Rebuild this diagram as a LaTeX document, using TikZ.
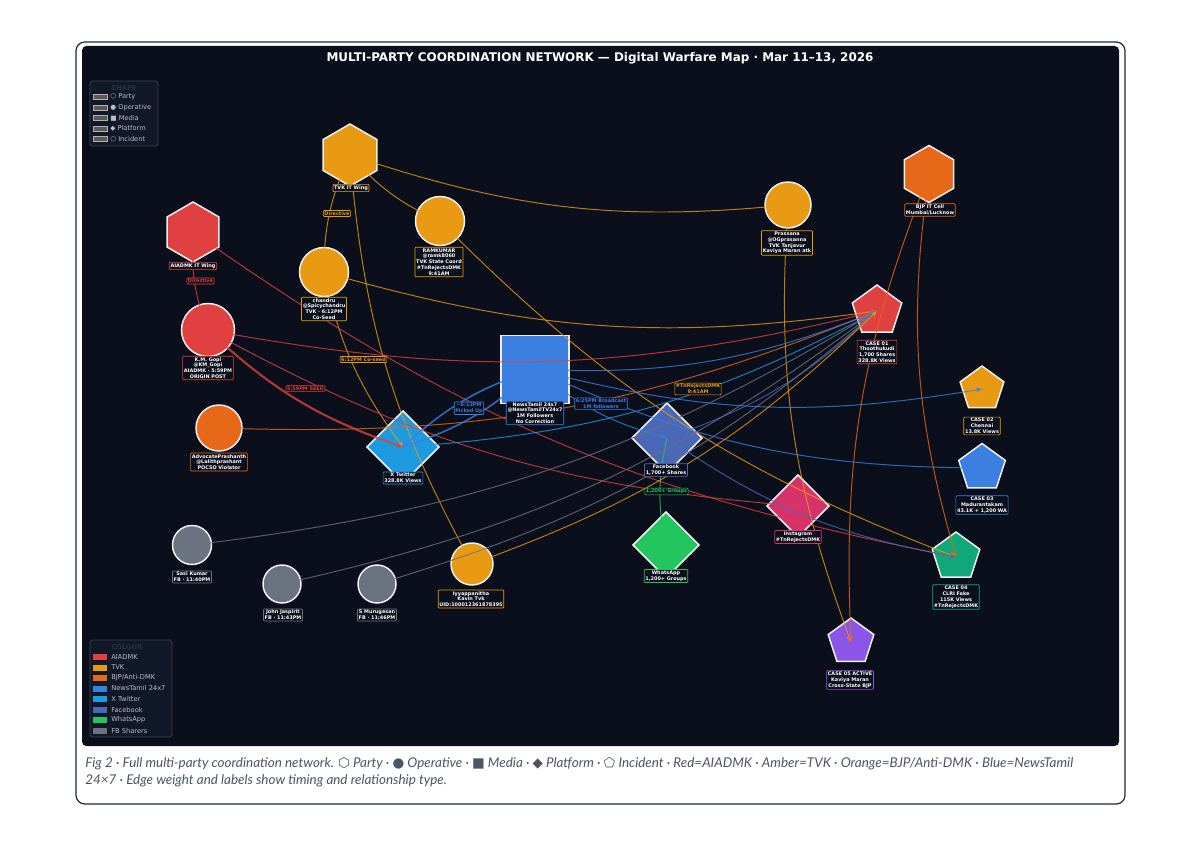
\documentclass[tikz,border=0pt]{standalone}
\usepackage{fontspec}
\setmainfont{DejaVu Sans}
\newfontfamily\capfont{Lato}
\newfontfamily\symf{DejaVu Sans}
\usetikzlibrary{shapes.geometric,arrows.meta}
\definecolor{panel}{HTML}{0B0F1C}
\definecolor{cRed}{HTML}{E0403F}
\definecolor{cAmb}{HTML}{E89B12}
\definecolor{cOra}{HTML}{E8681A}
\definecolor{cBlu}{HTML}{3B7FE0}
\definecolor{cXtw}{HTML}{1D9BE0}
\definecolor{cFb}{HTML}{4A68B8}
\definecolor{cWa}{HTML}{22C55E}
\definecolor{cIg}{HTML}{D6336C}
\definecolor{cGry}{HTML}{6B7280}
\definecolor{cTeal}{HTML}{10A878}
\definecolor{cPur}{HTML}{8B55E8}
\definecolor{frameC}{HTML}{1F2937}
\definecolor{capC}{HTML}{4B5563}
\definecolor{legFill}{HTML}{111827}
\definecolor{legLine}{HTML}{3B4455}
\definecolor{legText}{HTML}{B8BEC8}
\definecolor{legTitle}{HTML}{2A3342}
\newcommand\lblfont{\fontsize{2.8}{3.3}\selectfont\bfseries}
\newcommand\legfont{\fontsize{3.8}{4.5}\selectfont}
\tikzset{
  base/.style={draw=white!94!black, line width=0.85pt, inner sep=0pt, outer sep=0pt},
  party/.style={base, regular polygon, regular polygon sides=6, shape border rotate=30, minimum size=#1},
  oper/.style={base, circle, minimum size=#1},
  media/.style={base, rectangle, minimum size=#1},
  plat/.style={base, diamond, aspect=1, minimum width=#1, minimum height=#1},
  incid/.style={base, regular polygon, regular polygon sides=5, minimum size=#1},
  edge/.style={line width=0.55pt, opacity=0.8, -{Stealth[length=3.6pt,width=2.8pt]}},
  nlab/.style={fill=panel, draw=#1, text=white, line width=0.4pt, rounded corners=0.5pt, inner sep=0.7pt, font=\lblfont, align=center},
  elab/.style={fill=panel, draw=#1, text=#1, line width=0.35pt, rounded corners=0.5pt, inner sep=0.6pt, font=\lblfont, align=center},
  legbox/.style={fill=legFill, draw=legLine, line width=0.4pt, rounded corners=1pt},
  legsw/.style={minimum width=0.28cm, minimum height=0.1cm, inner sep=0pt},
  legtx/.style={anchor=west, text=legText, font=\legfont, inner sep=0pt},
}
\begin{document}
\begin{tikzpicture}[x=0.02cm,y=0.02cm]
\fill[white] (0,0) rectangle (1199,-848);
\useasboundingbox (0,0) rectangle (1199,-848);
\draw[frameC, fill=white, rounded corners=5pt, line width=0.7pt] (76,-42) rectangle (1125,-804);
\fill[panel, rounded corners=2.5pt] (82,-46) rectangle (1119,-746);
\node[text=white, font=\fontsize{6.8}{8}\selectfont\bfseries] (title) at (600,-58) {MULTI-PARTY COORDINATION NETWORK — Digital Warfare Map · Mar 11–13, 2026};

% ---------- nodes ----------
\node[party=1.24cm, fill=cAmb] (tvk) at (350,-155) {};
\node[party=1.2cm, fill=cRed] (aiad) at (193,-232) {};
\node[party=1.14cm, fill=cOra] (bjp) at (929,-174) {};
\node[oper=0.98cm, fill=cAmb] (ram) at (440,-221) {};
\node[oper=0.98cm, fill=cAmb] (chan) at (324,-272) {};
\node[oper=1.06cm, fill=cRed] (gopi) at (208,-330) {};
\node[oper=0.92cm, fill=cAmb] (pras) at (788,-205) {};
\node[oper=0.92cm, fill=cOra] (adv) at (219,-428) {};
\node[media=1.36cm, fill=cBlu] (news) at (535,-369.5) {};
\node[plat=1.44cm, fill=cXtw] (xtw) at (403,-447) {};
\node[plat=1.4cm, fill=cFb] (fb) at (667,-438) {};
\node[plat=1.32cm, fill=cWa] (wa) at (666,-545) {};
\node[plat=1.24cm, fill=cIg] (insta) at (798,-506) {};
\node[incid=1.04cm, fill=cRed] (c1) at (877,-311) {};
\node[incid=0.92cm, fill=cAmb] (c2) at (982,-389) {};
\node[incid=0.98cm, fill=cBlu] (c3) at (982,-468) {};
\node[incid=1.0cm, fill=cTeal] (c4) at (956,-557) {};
\node[incid=0.96cm, fill=cPur] (c5) at (851,-642) {};
\node[oper=0.78cm, fill=cGry] (sasi) at (192,-545) {};
\node[oper=0.76cm, fill=cGry] (john) at (282,-584) {};
\node[oper=0.76cm, fill=cGry] (muru) at (377,-584) {};
\node[oper=0.84cm, fill=cAmb] (iyya) at (472,-564) {};

% ---------- edges ----------
\draw[edge,cAmb] (tvk.center) to[bend right=12] (pras.center);
\draw[edge,cAmb] (tvk.center) to[bend right=12] (ram.center);
\draw[edge,cAmb] (tvk.center) to[bend right=12] (chan.center);
\draw[edge,cAmb] (tvk.center) to[bend right=12] (iyya.center);
\draw[edge,cAmb] (chan.center) to[bend right=12] (xtw.center);
\draw[edge,cAmb] (chan.center) to[bend right=12] (c1.center);
\draw[edge,cAmb] (ram.center) to[bend right=12] (c4.center);
\draw[edge,cAmb] (pras.center) to[bend right=12] (c5.center);
\draw[edge,cOra] (bjp.center) to[bend right=12] (c5.center);
\draw[edge,cOra] (bjp.center) to[bend right=12] (c4.center);
\draw[edge,cOra] (adv.center) to[bend right=12] (c1.center);
\draw[edge,cRed] (aiad.center) to[bend right=12] (gopi.center);
\draw[edge,cRed] (aiad.center) to[bend right=12] (c4.center);
\draw[edge,cRed,line width=1.2pt] (gopi.center) to[bend right=12] (xtw.center);
\draw[edge,cRed] (gopi.center) to[bend right=12] (c1.center);
\draw[edge,cRed] (gopi.center) to[bend right=12] (insta.center);
\draw[edge,cBlu,line width=0.9pt] (xtw.center) to[bend right=12] (news.center);
\draw[edge,cBlu,line width=0.9pt] (news.center) to[bend right=12] (xtw.center);
\draw[edge,cBlu] (news.center) to[bend right=12] (fb.center);
\draw[edge,cBlu] (news.center) to[bend right=12] (c1.center);
\draw[edge,cBlu] (news.center) to[bend right=12] (c2.center);
\draw[edge,cBlu] (news.center) to[bend right=12] (c3.center);
\draw[edge,cWa] (fb.center) to[bend right=12] (wa.center);
\draw[edge,cFb] (fb.center) to[bend right=12] (c4.center);
\draw[edge,cXtw] (xtw.center) to[bend right=12] (c1.center);
\draw[edge,cFb] (fb.center) to[bend right=12] (c1.center);
\draw[edge,cGry] (sasi.center) to[bend right=12] (c1.center);
\draw[edge,cGry] (john.center) to[bend right=12] (c1.center);
\draw[edge,cGry] (muru.center) to[bend right=12] (c1.center);
\draw[edge,cAmb] (iyya.center) to[bend right=12] (c1.center);

% ---------- edge labels ----------
\path (tvk.center) -- node[elab=cAmb] (eDir1) {Directive} (chan.center);
\path (aiad.center) -- node[elab=cRed] (eDir2) {Directive} (gopi.center);
\path (chan.center) -- node[elab=cAmb] (eCo) {6:12PM Co-seed} (xtw.center);
\path (gopi.center) -- node[elab=cRed] (eSeed) {5:59PM SEED} (xtw.center);
\path (xtw.center) -- node[elab=cBlu] (ePick) {\textasciitilde6:13PM\\Picked Up} (news.center);
\path (news.center) -- node[elab=cBlu] (eBc) {6:25PM Broadcast\\1M followers} (fb.center);
\path (ram.center) -- node[elab=cAmb] (eTn) {\#TnRejectsDMK\\9:41AM} (c4.center);
\path (fb.center) -- node[elab=cWa] (eGr) {1,200+ Groups} (wa.center);

% ---------- node labels ----------
\node[nlab=cAmb] (ltvk) at (351,-188) {TVK IT Wing};
\node[nlab=cRed] (laiad) at (193,-266) {AIADMK IT Wing};
\node[nlab=cOra] (lbjp) at (930,-210) {BJP IT Cell\\Mumbai/Lucknow};
\node[nlab=cAmb] (lram) at (439,-262) {RAMKUMAR\\@ramk8060\\TVK State Coord\\\#TnRejectsDMK\\9:41AM};
\node[nlab=cAmb] (lchan) at (324,-309) {chandru\\@Spicychandru\\TVK · 6:12PM\\Co-Seed};
\node[nlab=cRed] (lgopi) at (208,-368) {K.M. Gopi\\@KM\_Gopi\\AIADMK · 5:59PM\\ORIGIN POST};
\node[nlab=cAmb] (lpras) at (787,-243) {Prassana\\@OGprasanna\\TVK Tanjavur\\Kaviya Maran atk};
\node[nlab=cOra] (ladv) at (219,-462) {AdvocatePrashanth\\@Lalithprashant\\POCSO Violator};
\node[nlab=cBlu] (lnews) at (535,-413) {NewsTamil 24x7\\@NewsTamilTV24x7\\1M Followers\\No Correction};
\node[nlab=cXtw] (lxtw) at (403,-478) {X Twitter\\328.8K Views};
\node[nlab=cFb] (lfb) at (666,-470) {Facebook\\1,700+ Shares};
\node[nlab=cWa] (lwa) at (666,-576) {WhatsApp\\1,200+ Groups};
\node[nlab=cIg] (linsta) at (798,-537) {Instagram\\\#TnRejectsDMK};
\node[nlab=cRed] (lc1) at (877,-352) {CASE 01\\Thoothukudi\\1,700 Shares\\328.8K Views};
\node[nlab=cAmb] (lc2) at (982,-426) {CASE 02\\Chennai\\13.8K Views};
\node[nlab=cBlu] (lc3) at (982,-505) {CASE 03\\Madurantakam\\43.1K + 1,200 WA};
\node[nlab=cTeal] (lc4) at (956,-597) {CASE 04\\CLRI Fake\\115K Views\\\#TnRejectsDMK};
\node[nlab=cPur] (lc5) at (850,-680) {CASE 05 ACTIVE\\Kaviya Maran\\Cross-State BJP};
\node[nlab=cGry] (lsasi) at (192,-577) {Sasi Kumar\\FB · 11:40PM};
\node[nlab=cGry] (ljohn) at (283,-615) {John Jaspirit\\FB · 11:43PM};
\node[nlab=cGry] (lmuru) at (377,-615) {S Murugesan\\FB · 11:46PM};
\node[nlab=cAmb] (liyya) at (471,-599) {Iyyappanitha\\Kavin Tvk\\UID:100012361878395};

% ---------- legend: shape ----------
\node[legbox, minimum width=1.36cm, minimum height=1.3cm] (legS) at (124,-113.5) {};
\node[text=legTitle, font=\legfont\bfseries] (legSt) at (124,-88) {SHAPE};
\foreach \y/\t [count=\i] in {97/{⬡ Party},107.5/{● Operative},118/{■ Media},128.5/{◆ Platform},139/{⬠ Incident}}{
  \node[legsw, fill=black!65!white, draw=white!70!black, line width=0.35pt] (legSs\i) at (100,-\y) {};
  \node[legtx] (legSx\i) at (110,-\y) {\t};
}
% ---------- legend: colour ----------
\node[legbox, minimum width=1.64cm, minimum height=1.94cm] (legC) at (131,-688.5) {};
\node[text=legTitle, font=\legfont\bfseries] (legCt) at (127,-647) {COLOUR};
\foreach \y/\c/\t [count=\i] in {657/cRed/AIADMK,667.5/cAmb/TVK,678/cOra/BJP\slash Anti-DMK,688.5/cBlu/NewsTamil 24x7,699/cXtw/X Twitter,709.5/cFb/Facebook,720/cWa/WhatsApp,730.5/cGry/FB Sharers}{
  \node[legsw, fill=\c, minimum height=0.12cm] (legCs\i) at (100,-\y) {};
  \node[legtx] (legCx\i) at (111,-\y) {\t};
}

% ---------- caption ----------
\node[anchor=north west, align=left, text=capC, inner sep=0pt, font=\capfont\itshape\fontsize{7.65}{9.6}\selectfont] (cap) at (85,-757)
{Fig 2 · Full multi-party coordination network. {\symf\upshape ⬡} Party · {\symf\upshape ●} Operative · {\symf\upshape ■} Media · {\symf\upshape ◆} Platform · {\symf\upshape ⬠} Incident · Red=AIADMK · Amber=TVK · Orange=BJP/Anti-DMK · Blue=NewsTamil\\24×7 · Edge weight and labels show timing and relationship type.};
\end{tikzpicture}
\end{document}
